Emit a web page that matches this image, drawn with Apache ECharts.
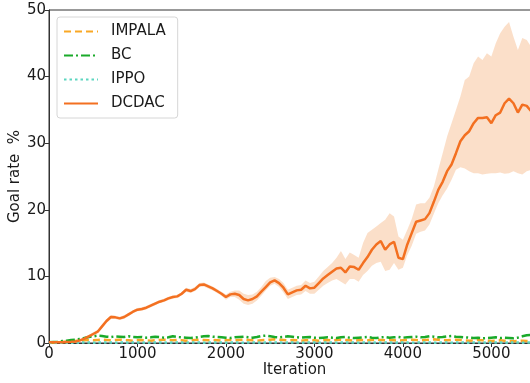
<!DOCTYPE html>
<html>
<head>
<meta charset="utf-8">
<script src="https://cdn.jsdelivr.net/npm/echarts@6/dist/echarts.min.js"></script>
<style>
  html, body { margin: 0; padding: 0; background: #fff; }
  #chart { width: 530px; height: 383px; }
</style>
</head>
<body>
<div id="chart"></div>
<script>
// Training iterations are logged every 50 steps
const step = 50;
const sampleCount = 112;
const iterations = [];
for (let i = 0; i < sampleCount; i++) iterations.push(i * step);

const xTicks = [0, 1000, 2000, 3000, 4000, 5000];
const yTicks = [0, 10, 20, 30, 40, 50];

// DCDAC goal rate (%), mean over seeds
const dcdacMean = [
  0.1, 0.1, 0.1, 0.12, 0.15, 0.18, 0.22, 0.4, 0.65, 1.0,
  1.35, 1.7, 2.5, 3.3, 3.9, 3.85, 3.7, 3.9, 4.3, 4.7,
  5.0, 5.1, 5.3, 5.6, 5.9, 6.2, 6.4, 6.7, 6.9, 7.0,
  7.4, 8.0, 7.8, 8.1, 8.7, 8.8, 8.5, 8.2, 7.8, 7.4,
  6.9, 7.3, 7.4, 7.2, 6.6, 6.4, 6.6, 7.0, 7.7, 8.4,
  9.1, 9.4, 9.0, 8.3, 7.3, 7.6, 7.9, 8.0, 8.6, 8.2,
  8.3, 9.0, 9.7, 10.2, 10.7, 11.2, 11.3, 10.6, 11.5, 11.4,
  11.0, 12.0, 12.9, 14.0, 14.8, 15.3, 14.0, 14.8, 15.2, 12.8,
  12.6, 14.8, 16.5, 18.2, 18.4, 18.6, 19.5, 21.2, 23.0, 24.2,
  25.8, 26.8, 28.5, 30.3, 31.2, 31.8, 33.0, 33.8, 33.8, 33.9,
  33.0, 34.2, 34.6, 36.0, 36.7, 36.0, 34.6, 35.8, 35.6, 34.8,
  35.0, 35.2
];
// DCDAC spread across seeds: lower edge
const dcdacLow = [
  0, 0, 0, 0, 0, 0.02, 0.05, 0.2, 0.4, 0.75,
  1.1, 1.45, 2.2, 3.0, 3.6, 3.6, 3.45, 3.65, 4.05, 4.45,
  4.75, 4.85, 5.05, 5.35, 5.65, 5.95, 6.15, 6.45, 6.65, 6.75,
  7.15, 7.7, 7.5, 7.8, 8.4, 8.5, 8.2, 7.9, 7.5, 7.1,
  6.5, 6.9, 6.9, 6.5, 5.9, 5.7, 5.9, 6.4, 7.1, 7.9,
  8.6, 8.9, 8.4, 7.6, 6.6, 6.9, 7.2, 7.3, 7.8, 7.4,
  7.4, 8.0, 8.6, 9.0, 9.4, 9.6, 9.2, 8.8, 9.6, 9.6,
  9.2, 10.2, 10.8, 11.6, 12.0, 12.2, 10.8, 11.0, 12.0, 11.0,
  11.3, 13.2, 14.6, 16.4, 16.7, 16.9, 17.8, 19.4, 21.0, 22.2,
  23.2, 24.5, 26.0, 26.4, 26.2, 25.8, 25.5, 25.5, 25.3, 25.4,
  25.5, 25.5, 25.6, 25.4, 25.5, 25.8, 25.5, 25.3, 25.8, 26.0,
  26.0, 26.0
];
// DCDAC spread across seeds: upper edge
const dcdacHigh = [
  0.2, 0.2, 0.2, 0.24, 0.3, 0.34, 0.4, 0.6, 0.9, 1.25,
  1.6, 1.95, 2.8, 3.6, 4.2, 4.1, 3.95, 4.15, 4.55, 4.95,
  5.25, 5.35, 5.55, 5.85, 6.15, 6.45, 6.65, 6.95, 7.15, 7.25,
  7.65, 8.3, 8.1, 8.4, 9.0, 9.1, 8.8, 8.5, 8.1, 7.7,
  7.3, 7.7, 7.9, 7.9, 7.4, 7.2, 7.3, 7.7, 8.4, 9.3,
  9.8, 9.9, 9.6, 9.0, 8.0, 8.3, 8.6, 8.7, 9.4, 9.0,
  9.2, 10.0, 10.8, 11.4, 12.0, 12.8, 13.8, 12.6, 13.6, 13.2,
  12.8, 15.0, 16.5, 17.0, 17.5, 18.0, 18.5, 19.5, 19.0, 16.0,
  15.5, 17.0, 18.6, 20.8, 21.0, 21.0, 21.8, 23.5, 26.0, 28.5,
  31.0, 33.0, 35.0, 37.0, 39.5, 40.0, 42.0, 43.0, 42.5, 43.5,
  43.0, 45.0, 46.5, 47.5, 48.2, 46.0, 44.0, 45.8, 45.5, 44.5,
  45.0, 45.0
];
// Baselines
const impala = [
  0.0, 0.05, 0.1, 0.15, 0.2, 0.25, 0.3, 0.35, 0.4, 0.45,
  0.4, 0.45, 0.5, 0.45, 0.4, 0.45, 0.5, 0.45, 0.4, 0.35,
  0.4, 0.45, 0.4, 0.35, 0.4, 0.45, 0.5, 0.45, 0.4, 0.45,
  0.4, 0.35, 0.4, 0.45, 0.5, 0.45, 0.4, 0.45, 0.4, 0.35,
  0.4, 0.45, 0.4, 0.45, 0.5, 0.45, 0.4, 0.35, 0.4, 0.45,
  0.5, 0.55, 0.5, 0.45, 0.4, 0.45, 0.4, 0.35, 0.4, 0.45,
  0.4, 0.35, 0.4, 0.45, 0.4, 0.45, 0.5, 0.45, 0.4, 0.35,
  0.4, 0.45, 0.4, 0.45, 0.5, 0.45, 0.4, 0.45, 0.4, 0.35,
  0.4, 0.45, 0.5, 0.45, 0.4, 0.45, 0.5, 0.55, 0.5, 0.45,
  0.4, 0.45, 0.5, 0.45, 0.4, 0.35, 0.4, 0.45, 0.4, 0.35,
  0.3, 0.35, 0.4, 0.35, 0.3, 0.25, 0.3, 0.35, 0.3, 0.35,
  0.3, 0.35
];
const bc = [
  0.1, 0.15, 0.2, 0.3, 0.35, 0.45, 0.5, 0.6, 0.75, 0.9,
  1.0, 1.1, 1.05, 0.95, 0.9, 1.0, 0.95, 0.9, 1.0, 0.9,
  0.85, 0.9, 0.8, 0.85, 0.95, 0.9, 0.8, 0.85, 1.0, 0.9,
  0.85, 0.8, 0.75, 0.8, 0.9, 1.0, 1.05, 0.95, 0.9, 0.85,
  0.8, 0.75, 0.85, 0.9, 0.95, 0.85, 0.8, 0.9, 1.05, 1.1,
  1.0, 0.9, 0.85, 0.9, 1.0, 0.95, 0.85, 0.8, 0.85, 0.9,
  0.8, 0.75, 0.8, 0.85, 0.8, 0.75, 0.85, 0.9, 0.8, 0.75,
  0.8, 0.85, 0.9, 0.8, 0.75, 0.85, 0.9, 0.8, 0.85, 0.9,
  0.8, 0.85, 0.9, 0.95, 0.85, 0.9, 1.0, 0.95, 0.85, 0.9,
  1.0, 1.05, 0.95, 0.9, 0.85, 0.8, 0.75, 0.8, 0.7, 0.75,
  0.8, 0.85, 0.75, 0.8, 0.75, 0.7, 0.8, 1.0, 1.15, 1.2,
  1.1, 1.2
];
const ippo = [
  0.0, 0.0, 0.02, 0.03, 0.05, 0.05, 0.06, 0.05, 0.07, 0.06,
  0.05, 0.06, 0.08, 0.07, 0.06, 0.05, 0.06, 0.07, 0.05, 0.06,
  0.07, 0.06, 0.05, 0.06, 0.07, 0.08, 0.06, 0.05, 0.06, 0.07,
  0.06, 0.05, 0.06, 0.07, 0.06, 0.05, 0.06, 0.07, 0.08, 0.06,
  0.05, 0.06, 0.07, 0.06, 0.05, 0.06, 0.07, 0.06, 0.05, 0.06,
  0.07, 0.08, 0.06, 0.05, 0.06, 0.07, 0.06, 0.05, 0.06, 0.07,
  0.06, 0.05, 0.06, 0.07, 0.06, 0.05, 0.06, 0.07, 0.08, 0.06,
  0.05, 0.06, 0.07, 0.06, 0.05, 0.06, 0.07, 0.06, 0.05, 0.06,
  0.07, 0.06, 0.05, 0.06, 0.07, 0.08, 0.06, 0.05, 0.06, 0.07,
  0.06, 0.05, 0.06, 0.07, 0.06, 0.05, 0.06, 0.07, 0.06, 0.05,
  0.06, 0.07, 0.06, 0.05, 0.06, 0.07, 0.06, 0.05, 0.06, 0.07,
  0.06, 0.05
];

const pairs = (ys) => iterations.map((x, i) => [x, ys[i]]);

const FONT = 'DejaVu Sans';
const chart = echarts.init(document.getElementById('chart'), null, { renderer: 'canvas' });

chart.setOption({
  animation: false,
  backgroundColor: '#ffffff',
  textStyle: { fontFamily: FONT },
  grid: {
    left: 49, right: -10, top: 10, bottom: 40,
    outerBoundsMode: 'none', containLabel: false,
    show: true, borderColor: '#333', borderWidth: 1, backgroundColor: 'transparent'
  },
  legend: {
    orient: 'vertical',
    left: 57, top: 17,
    padding: [7, 12, 7, 6],
    itemWidth: 34, itemHeight: 14, itemGap: 9,
    itemStyle: { opacity: 0 },
    backgroundColor: 'rgba(255,255,255,0.85)',
    borderColor: '#d6d6d6', borderWidth: 1, borderRadius: 3,
    textStyle: { fontFamily: FONT, fontSize: 15, color: '#1a1a1a', padding: [0, 0, 0, 8] },
    data: ['IMPALA', 'BC', 'IPPO', 'DCDAC']
  },
  xAxis: {
    type: 'value', min: 0, max: 5550, interval: 1000,
    name: 'Iteration', nameLocation: 'middle', nameGap: 20, nameMoveOverlap: false,
    nameTextStyle: { fontFamily: FONT, fontSize: 15, color: '#1a1a1a' },
    axisLine: { show: true, onZero: false, lineStyle: { color: '#333', width: 1 } },
    axisTick: { show: true, length: 4, lineStyle: { color: '#333' } },
    axisLabel: {
      fontFamily: FONT, fontSize: 15, color: '#1a1a1a', margin: 4, showMaxLabel: false,
      formatter: (v) => (xTicks.includes(v) ? String(v) : '')
    },
    splitLine: { show: false }
  },
  yAxis: {
    type: 'value', min: 0, max: 50, interval: 10,
    name: 'Goal rate  %', nameLocation: 'middle', nameGap: 26, nameMoveOverlap: false,
    nameTextStyle: { fontFamily: FONT, fontSize: 15, color: '#1a1a1a' },
    axisLine: { show: true, lineStyle: { color: '#333', width: 1 } },
    axisTick: { show: true, length: 4, lineStyle: { color: '#333' } },
    axisLabel: {
      fontFamily: FONT, fontSize: 15, color: '#1a1a1a', margin: 3,
      formatter: (v) => (yTicks.includes(v) ? String(v) : '')
    },
    splitLine: { show: false }
  },
  series: [
    {
      // shaded spread of DCDAC across seeds
      name: 'DCDAC band',
      type: 'custom',
      silent: true,
      z: 1,
      data: [[0, 0]],
      renderItem: (params, api) => {
        const pts = [];
        for (let i = 0; i < iterations.length; i++) pts.push(api.coord([iterations[i], dcdacHigh[i]]));
        for (let i = iterations.length - 1; i >= 0; i--) pts.push(api.coord([iterations[i], dcdacLow[i]]));
        return { type: 'polygon', shape: { points: pts }, style: { fill: '#fbdcc3', opacity: 0.9 } };
      }
    },
    {
      name: 'IMPALA', type: 'line', symbol: 'none', z: 3,
      data: pairs(impala),
      itemStyle: { color: '#f9a825' },
      lineStyle: { color: '#f9a825', width: 2.5, type: [7, 4] }
    },
    {
      name: 'BC', type: 'line', symbol: 'none', z: 3,
      data: pairs(bc),
      itemStyle: { color: '#1aaa2a' },
      lineStyle: { color: '#1aaa2a', width: 2.5, type: [9, 3, 2, 3] }
    },
    {
      name: 'IPPO', type: 'line', symbol: 'none', z: 3,
      data: pairs(ippo),
      itemStyle: { color: '#5cd6c0' },
      lineStyle: { color: '#5cd6c0', width: 2.5, type: [2.5, 3] }
    },
    {
      name: 'DCDAC', type: 'line', symbol: 'none', z: 4,
      data: pairs(dcdacMean),
      itemStyle: { color: '#f37021' },
      lineStyle: { color: '#f37021', width: 2.5 }
    }
  ]
});
</script>
</body>
</html>
